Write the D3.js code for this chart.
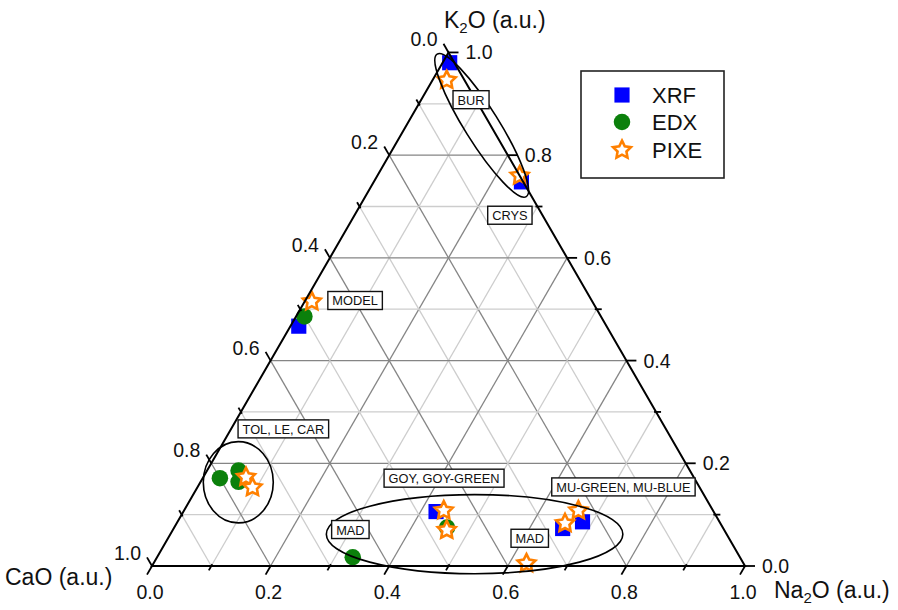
<!DOCTYPE html>
<html><head><meta charset="utf-8">
<script src="https://cdn.jsdelivr.net/npm/d3@7"></script>
<style>
body{margin:0;background:#fff}
svg{display:block}
text{font-family:"Liberation Sans",Arial,Helvetica,sans-serif;fill:#111}
</style>
</head><body>
<svg id="chart" width="898" height="610"></svg>
<script>
// ---------------- DATA ----------------
const seriesNames = ["XRF", "EDX", "PIXE"];

// XRF (blue squares)
const xrfNa2O = [0.012, 0.249, 0.014, 0.426, 0.683, 0.656];
const xrfK2O  = [0.980, 0.748, 0.467, 0.106, 0.086, 0.073];
const xrfCaO  = [0.008, 0.003, 0.519, 0.468, 0.231, 0.271];

// EDX (green circles)
const edxNa2O = [0.014, 0.029, 0.053, 0.064, 0.460, 0.330];
const edxK2O  = [0.486, 0.171, 0.186, 0.164, 0.075, 0.017];
const edxCaO  = [0.500, 0.800, 0.761, 0.772, 0.465, 0.653];

// PIXE (orange stars)
const pixeNa2O = [0.024, 0.240, 0.012, 0.072, 0.093, 0.438, 0.462, 0.629, 0.665, 0.655];
const pixeK2O  = [0.946, 0.760, 0.515, 0.173, 0.153, 0.108, 0.070, 0.005, 0.108, 0.083];
const pixeCaO  = [0.030, 0.000, 0.473, 0.755, 0.754, 0.454, 0.468, 0.366, 0.227, 0.262];

// axis ticks
const tickValues = [0, 0.1, 0.2, 0.3, 0.4, 0.5, 0.6, 0.7, 0.8, 0.9, 1.0];
const tickLabels = ["0.0", "0.2", "0.4", "0.6", "0.8", "1.0"];

// sample-group annotations (ternary coords of box centre)
const groupLabels = ["BUR", "CRYS", "MODEL", "TOL, LE, CAR", "GOY, GOY-GREEN", "MAD", "MAD", "MU-GREEN, MU-BLUE"];
const groupLabelNa2O = [0.084, 0.262, 0.084, 0.088, 0.407, 0.299, 0.610, 0.718];
const groupLabelK2O  = [0.908, 0.683, 0.517, 0.267, 0.171, 0.071, 0.054, 0.154];

// group ellipses (centre in ternary coords, semi-axes as fraction of side, angle deg)
const ellipseNa2O = [0.127, 0.064, 0.513];
const ellipseK2O  = [0.858, 0.163, 0.062];
const ellipseRx   = [0.1417, 0.059, 0.250];
const ellipseRy   = [0.0287, 0.0685, 0.0667];
const ellipseAngle = [58, 0, 0];

// ---------------- LAYOUT ----------------
const svg = d3.select("#chart");
const X0 = 152, X1 = 745, BASE = 566;
const side = X1 - X0;
const TOP = BASE - side * Math.sqrt(3) / 2;

const xs = d3.scaleLinear().domain([0, 1]).range([X0, X1]);   // along base
const ys = d3.scaleLinear().domain([0, 1]).range([BASE, TOP]); // K2O height
const len = d3.scaleLinear().domain([0, 1]).range([0, side]);

function proj(na, k) { return [xs(na + k / 2), ys(k)]; }

const gGrid = svg.append("g");
const gPts = svg.append("g");
const gAxes = svg.append("g");
const gAnno = svg.append("g");

// ---------------- GRID ----------------
const gridVals = tickValues.filter(v => v > 0 && v < 1);
gridVals.forEach(v => {
  const major = Math.round(v * 10) % 2 === 0;
  const col = major ? "#858585" : "#cdcdcd";
  const lines = [
    [proj(0, v), proj(1 - v, v)],          // constant K2O
    [proj(v, 0), proj(v, 1 - v)],          // constant Na2O
    [proj(1 - v, 0), proj(0, 1 - v)]       // constant CaO
  ];
  lines.forEach(l => {
    gGrid.append("line")
      .attr("x1", l[0][0]).attr("y1", l[0][1])
      .attr("x2", l[1][0]).attr("y2", l[1][1])
      .attr("stroke", col).attr("stroke-width", 1.3);
  });
});

// ---------------- POINTS ----------------
const starType = {
  draw(ctx, size) {
    const R = Math.sqrt(size) / 2, r = R * 0.5;
    for (let i = 0; i < 10; i++) {
      const a = i * Math.PI / 5 - Math.PI / 2;
      const rr = i % 2 ? r : R;
      const x = rr * Math.cos(a), y = rr * Math.sin(a);
      if (i === 0) ctx.moveTo(x, y); else ctx.lineTo(x, y);
    }
    ctx.closePath();
  }
};
const symSquare = d3.symbol().type(d3.symbolSquare).size(230);
const symCircle = d3.symbol().type(d3.symbolCircle).size(215);
const symStar = d3.symbol().type(starType).size(350);

const BLUE = "#0000ff", GREEN = "#0b800b", ORANGE = "#ff8000";

gPts.selectAll(".xrf").data(d3.range(xrfNa2O.length)).join("path")
  .attr("transform", i => `translate(${proj(xrfNa2O[i], xrfK2O[i])})`)
  .attr("d", symSquare).attr("fill", BLUE);
gPts.selectAll(".edx").data(d3.range(edxNa2O.length)).join("path")
  .attr("transform", i => `translate(${proj(edxNa2O[i], edxK2O[i])})`)
  .attr("d", symCircle).attr("fill", GREEN);
gPts.selectAll(".pixe").data(d3.range(pixeNa2O.length)).join("path")
  .attr("transform", i => `translate(${proj(pixeNa2O[i], pixeK2O[i])})`)
  .attr("d", symStar).attr("fill", "#fff").attr("stroke", ORANGE)
  .attr("stroke-width", 2.6).attr("stroke-linejoin", "miter");

// ---------------- TRIANGLE + TICKS ----------------
const corners = [proj(0, 0), proj(1, 0), proj(0, 1)];
gAxes.append("path")
  .attr("d", d3.line()(corners) + "Z")
  .attr("fill", "none").attr("stroke", "#000").attr("stroke-width", 2);

const s3 = Math.sqrt(3) / 2;
const axesDef = [
  // bottom: Na2O
  { pt: v => proj(v, 0), dir: [-0.5, s3],
    lab: (p) => [p[0] - 2, p[1] + 26, "middle"] },
  // left: CaO
  { pt: v => proj(0, 1 - v), dir: [-0.5, -s3],
    lab: (p) => [p[0] - 11, p[1] - 13, "end"] },
  // right: K2O
  { pt: v => proj(1 - v, v), dir: [1, 0],
    lab: (p) => [p[0] + 17, p[1], "start"] }
];
axesDef.forEach(ax => {
  tickValues.forEach((v, i) => {
    const p = ax.pt(v);
    const major = i % 2 === 0;
    const a = major ? 0 : -2, b = major ? 10 : 5;
    gAxes.append("line")
      .attr("x1", p[0] + ax.dir[0] * a).attr("y1", p[1] + ax.dir[1] * a)
      .attr("x2", p[0] + ax.dir[0] * b).attr("y2", p[1] + ax.dir[1] * b)
      .attr("stroke", "#000").attr("stroke-width", 1.8);
    if (major) {
      const L = ax.lab(p);
      gAxes.append("text").attr("x", L[0]).attr("y", L[1])
        .attr("text-anchor", L[2]).attr("dominant-baseline", "central")
        .attr("font-size", 19.5).text(tickLabels[i / 2]);
    }
  });
});

// axis titles
function title(x, y, parts) {
  const t = gAxes.append("text").attr("x", x).attr("y", y).attr("font-size", 23);
  t.append("tspan").text(parts[0]);
  t.append("tspan").attr("font-size", 15).attr("dy", 5).text(parts[1]);
  t.append("tspan").attr("dy", -5).text(parts[2]);
}
title(444, 28, ["K", "2", "O (a.u.)"]);
gAxes.append("text").attr("x", 5).attr("y", 585).attr("font-size", 23).text("CaO (a.u.)");
title(774, 598, ["Na", "2", "O (a.u.)"]);

// ---------------- ANNOTATIONS ----------------
ellipseNa2O.forEach((na, i) => {
  const c = proj(na, ellipseK2O[i]);
  gAnno.append("ellipse")
    .attr("cx", 0).attr("cy", 0)
    .attr("rx", len(ellipseRx[i])).attr("ry", len(ellipseRy[i]))
    .attr("transform", `translate(${c}) rotate(${ellipseAngle[i]})`)
    .attr("fill", "none").attr("stroke", "#000").attr("stroke-width", 1.6);
});

groupLabels.forEach((lab, i) => {
  const c = proj(groupLabelNa2O[i], groupLabelK2O[i]);
  const g = gAnno.append("g").attr("transform", `translate(${c})`);
  const rect = g.append("rect");
  const t = g.append("text").attr("text-anchor", "middle")
    .attr("dominant-baseline", "central").attr("font-size", 12.8).attr("y", 0.5).text(lab);
  const w = t.node().getComputedTextLength() + 9;
  rect.attr("x", -w / 2).attr("y", -9).attr("width", w).attr("height", 18)
    .attr("fill", "#fff").attr("stroke", "#111").attr("stroke-width", 1.4);
});

// ---------------- LEGEND ----------------
const leg = svg.append("g");
leg.append("rect").attr("x", 581).attr("y", 71).attr("width", 143).attr("height", 107)
  .attr("fill", "#fff").attr("stroke", "#222").attr("stroke-width", 1.6);
const legY = [95, 122, 150];
const legSyms = [
  g => g.append("path").attr("d", symSquare).attr("fill", BLUE),
  g => g.append("path").attr("d", symCircle).attr("fill", GREEN),
  g => g.append("path").attr("d", symStar).attr("fill", "#fff").attr("stroke", ORANGE).attr("stroke-width", 2.6)
];
seriesNames.forEach((n, i) => {
  const g = leg.append("g").attr("transform", `translate(622,${legY[i]})`);
  legSyms[i](g);
  leg.append("text").attr("x", 652).attr("y", legY[i]).attr("dominant-baseline", "central")
    .attr("font-size", 22).text(n);
});
</script>
</body></html>
